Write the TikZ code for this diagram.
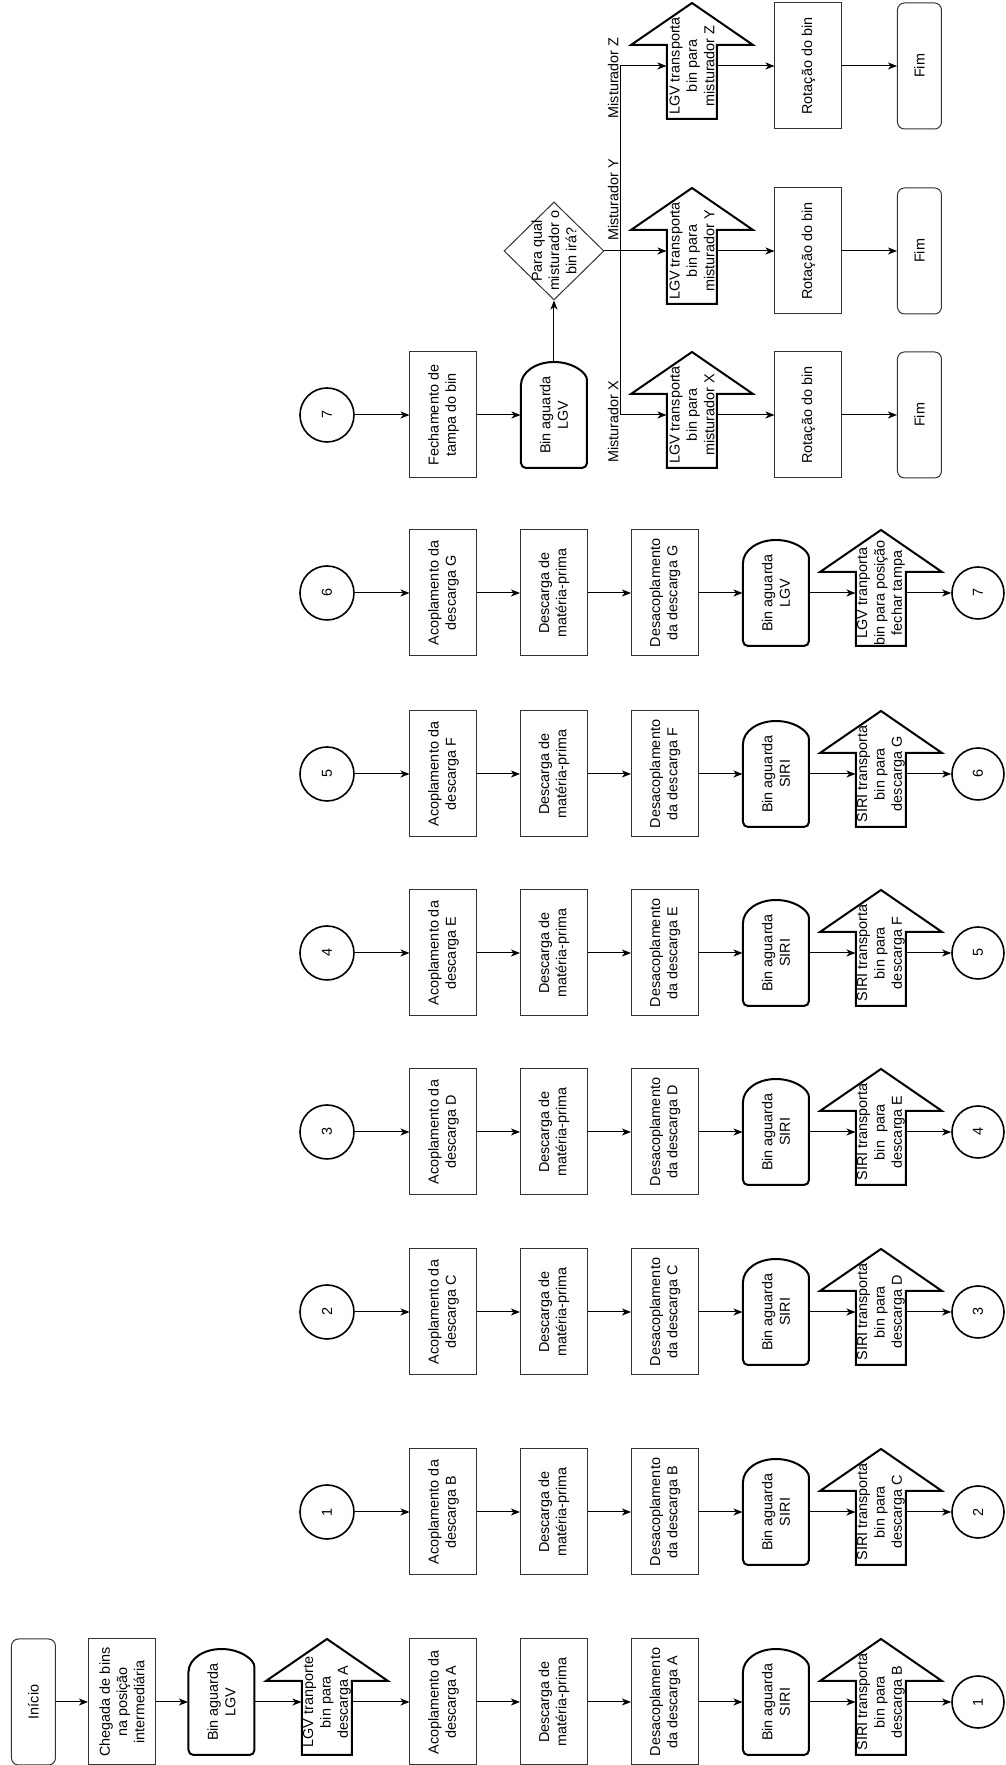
\documentclass[tikz,border=0pt]{standalone}
\usepackage{fontspec}
\setmainfont{Liberation Sans}
\usetikzlibrary{arrows.meta,shapes.geometric}

\begin{document}
\begin{tikzpicture}[
    x=1pt, y=1pt, rotate=90, transform shape,
    font=\fontsize{14.4}{17.3}\selectfont,
    line width=1pt,
    >={Stealth[length=9pt,width=7pt,inset=2.5pt]},
    caixa/.style={draw=black!80, align=center, inner sep=2pt, minimum width=126pt, minimum height=67pt},
    terminal/.style={draw=black!80, rounded corners=7pt, inner sep=2pt, minimum width=126pt, minimum height=44pt},
    conector/.style={circle, draw, line width=1.6pt, inner sep=0pt, minimum size=54pt},
    decisao/.style={diamond, draw=black!80, inner sep=0pt, minimum width=98pt, minimum height=100pt},
    espera/.style={align=center, inner sep=1pt, minimum width=106pt, minimum height=66pt,
      append after command={\pgfextra{
        \draw[line width=2pt, rounded corners=5pt] (\tikzlastnode.center) ++(30pt,33pt)
          -- ++(-83pt,0pt) -- ++(0pt,-66pt) -- ++(83pt,0pt) [sharp corners]
          arc[start angle=-90, end angle=90, x radius=23pt, y radius=33pt] -- cycle;}}},
    seta/.style={align=center, inner sep=0pt, minimum width=106pt, minimum height=50pt,
      append after command={\pgfextra{
        \draw[line width=2pt] (\tikzlastnode.center) ++(-53pt,25pt)
          -- ++(74pt,0pt) -- ++(0pt,36pt) -- ++(42pt,-61pt) -- ++(-42pt,-61pt)
          -- ++(0pt,36pt) -- ++(-74pt,0pt) -- cycle;}}},
    rotulo/.style={inner sep=2pt, anchor=south},
  ]

  \useasboundingbox (0,0) rectangle (1765,1005);

  % Descarga A
  \node[terminal] (ini) at (63,971.5) {Início};
  \node[caixa] (cheg) at (63,883) {Chegada de bins\\na posição\\intermediária};
  \node[espera] (espLGV) at (63,783.5) {Bin aguarda\\LGV};
  \node[seta] (setaLGV) at (63,678) {LGV tranporte\\bin para\\descarga A};
  \node[caixa] (acA) at (63,561.5) {Acoplamento da\\descarga A};
  \node[caixa] (dsA) at (63,451) {Descarga de\\matéria-prima};
  \node[caixa] (dcA) at (63,340) {Desacoplamento\\da descarga A};
  \node[espera] (espA) at (63,229) {Bin aguarda\\SIRI};
  \node[seta] (setaA) at (63,124) {SIRI transporta\\bin para\\descarga B};
  \node[conector, minimum size=52pt] (sai1) at (63,27) {1};

  % Descarga B
  \node[conector] (ent1) at (253,678) {1};
  \node[caixa] (acB) at (253,561.5) {Acoplamento da\\descarga B};
  \node[caixa] (dsB) at (253,451) {Descarga de\\matéria-prima};
  \node[caixa] (dcB) at (253,340) {Desacoplamento\\da descarga B};
  \node[espera] (espB) at (253,229) {Bin aguarda\\SIRI};
  \node[seta] (setaB) at (253,124) {SIRI transporta\\bin para\\descarga C};
  \node[conector, minimum size=52pt] (sai2) at (253,27) {2};

  % Descarga C
  \node[conector] (ent2) at (453,678) {2};
  \node[caixa] (acC) at (453,561.5) {Acoplamento da\\descarga C};
  \node[caixa] (dsC) at (453,451) {Descarga de\\matéria-prima};
  \node[caixa] (dcC) at (453,340) {Desacoplamento\\da descarga C};
  \node[espera] (espC) at (453,229) {Bin aguarda\\SIRI};
  \node[seta] (setaC) at (453,124) {SIRI transporta\\bin para\\descarga D};
  \node[conector, minimum size=52pt] (sai3) at (453,27) {3};

  % Descarga D
  \node[conector] (ent3) at (633,678) {3};
  \node[caixa] (acD) at (633,561.5) {Acoplamento da\\descarga D};
  \node[caixa] (dsD) at (633,451) {Descarga de\\matéria-prima};
  \node[caixa] (dcD) at (633,340) {Desacoplamento\\da descarga D};
  \node[espera] (espD) at (633,229) {Bin aguarda\\SIRI};
  \node[seta] (setaD) at (633,124) {SIRI transporta\\bin \ para\\descarga E};
  \node[conector, minimum size=52pt] (sai4) at (633,27) {4};

  % Descarga E
  \node[conector] (ent4) at (812,678) {4};
  \node[caixa] (acE) at (812,561.5) {Acoplamento da\\descarga E};
  \node[caixa] (dsE) at (812,451) {Descarga de\\matéria-prima};
  \node[caixa] (dcE) at (812,340) {Desacoplamento\\da descarga E};
  \node[espera] (espE) at (812,229) {Bin aguarda\\SIRI};
  \node[seta] (setaE) at (812,124) {SIRI transporta\\bin para\\descarga F};
  \node[conector, minimum size=52pt] (sai5) at (812,27) {5};

  % Descarga F
  \node[conector] (ent5) at (991,678) {5};
  \node[caixa] (acF) at (991,561.5) {Acoplamento da\\descarga F};
  \node[caixa] (dsF) at (991,451) {Descarga de\\matéria-prima};
  \node[caixa] (dcF) at (991,340) {Desacoplamento\\da descarga F};
  \node[espera] (espF) at (991,229) {Bin aguarda\\SIRI};
  \node[seta] (setaF) at (991,124) {SIRI transporta\\bin para\\descarga G};
  \node[conector, minimum size=52pt] (sai6) at (991,27) {6};

  % Descarga G
  \node[conector] (ent6) at (1172,678) {6};
  \node[caixa] (acG) at (1172,561.5) {Acoplamento da\\descarga G};
  \node[caixa] (dsG) at (1172,451) {Descarga de\\matéria-prima};
  \node[caixa] (dcG) at (1172,340) {Desacoplamento\\da descarga G};
  \node[espera] (espG) at (1172,229) {Bin aguarda\\LGV};
  \node[seta] (setaG) at (1172,124) {LGV tranporta\\bin para posição\\fechar tampa};
  \node[conector, minimum size=52pt] (sai7) at (1172,27) {7};

  % Fechamento e misturadores
  \node[conector] (ent7) at (1350,678) {7};
  \node[caixa] (fech) at (1350,561.5) {Fechamento de\\tampa do bin};
  \node[espera] (espT) at (1350,451) {Bin aguarda\\LGV};
  \node[decisao, label={[align=center]center:{Para qual\\misturador o\\bin irá?}}] (dec) at (1514,451) {};
  \coordinate (bif) at (1514,384);
  \coordinate (bifX) at (1350,384);
  \coordinate (bifZ) at (1699,384);

  \node[seta] (setaX) at (1350,313) {LGV transporta\\bin para\\misturador X};
  \node[caixa] (rotX) at (1350,196.5) {Rotação do bin};
  \node[terminal] (fimX) at (1350,85.5) {Fim};
  \node[seta] (setaY) at (1514,313) {LGV transporta\\bin para\\misturador Y};
  \node[caixa] (rotY) at (1514,196.5) {Rotação do bin};
  \node[terminal] (fimY) at (1514,85.5) {Fim};
  \node[seta] (setaZ) at (1699,313) {LGV transporta\\bin para\\misturador Z};
  \node[caixa] (rotZ) at (1699,196.5) {Rotação do bin};
  \node[terminal] (fimZ) at (1699,85.5) {Fim};

  \node[rotulo] (labX) at (1343,384) {Misturador X};
  \node[rotulo] (labY) at (1565,384) {Misturador Y};
  \node[rotulo] (labZ) at (1687,384) {Misturador Z};

  % Fluxo
  \draw[->] (ini) -- (cheg);
  \draw[->] (cheg) -- (espLGV);
  \draw[->] (espLGV) -- (setaLGV);
  \draw[->] (setaLGV) -- (acA);
  \draw[->] (acA) -- (dsA);
  \draw[->] (dsA) -- (dcA);
  \draw[->] (dcA) -- (espA);
  \draw[->] (espA) -- (setaA);
  \draw[->] (setaA) -- (sai1);

  \draw[->] (ent1) -- (acB);
  \draw[->] (acB) -- (dsB);
  \draw[->] (dsB) -- (dcB);
  \draw[->] (dcB) -- (espB);
  \draw[->] (espB) -- (setaB);
  \draw[->] (setaB) -- (sai2);

  \draw[->] (ent2) -- (acC);
  \draw[->] (acC) -- (dsC);
  \draw[->] (dsC) -- (dcC);
  \draw[->] (dcC) -- (espC);
  \draw[->] (espC) -- (setaC);
  \draw[->] (setaC) -- (sai3);

  \draw[->] (ent3) -- (acD);
  \draw[->] (acD) -- (dsD);
  \draw[->] (dsD) -- (dcD);
  \draw[->] (dcD) -- (espD);
  \draw[->] (espD) -- (setaD);
  \draw[->] (setaD) -- (sai4);

  \draw[->] (ent4) -- (acE);
  \draw[->] (acE) -- (dsE);
  \draw[->] (dsE) -- (dcE);
  \draw[->] (dcE) -- (espE);
  \draw[->] (espE) -- (setaE);
  \draw[->] (setaE) -- (sai5);

  \draw[->] (ent5) -- (acF);
  \draw[->] (acF) -- (dsF);
  \draw[->] (dsF) -- (dcF);
  \draw[->] (dcF) -- (espF);
  \draw[->] (espF) -- (setaF);
  \draw[->] (setaF) -- (sai6);

  \draw[->] (ent6) -- (acG);
  \draw[->] (acG) -- (dsG);
  \draw[->] (dsG) -- (dcG);
  \draw[->] (dcG) -- (espG);
  \draw[->] (espG) -- (setaG);
  \draw[->] (setaG) -- (sai7);

  \draw[->] (ent7) -- (fech);
  \draw[->] (fech) -- (espT);
  \draw[->] (espT) -- (dec);

  % Misturadores
  \draw[->] (dec.south) -- (setaY);
  \draw[->] (bif) -- (bifX) -- (setaX);
  \draw[->] (bif) -- (bifZ) -- (setaZ);
  \draw[->] (setaX) -- (rotX);
  \draw[->] (rotX) -- (fimX);
  \draw[->] (setaY) -- (rotY);
  \draw[->] (rotY) -- (fimY);
  \draw[->] (setaZ) -- (rotZ);
  \draw[->] (rotZ) -- (fimZ);
\end{tikzpicture}
\end{document}
